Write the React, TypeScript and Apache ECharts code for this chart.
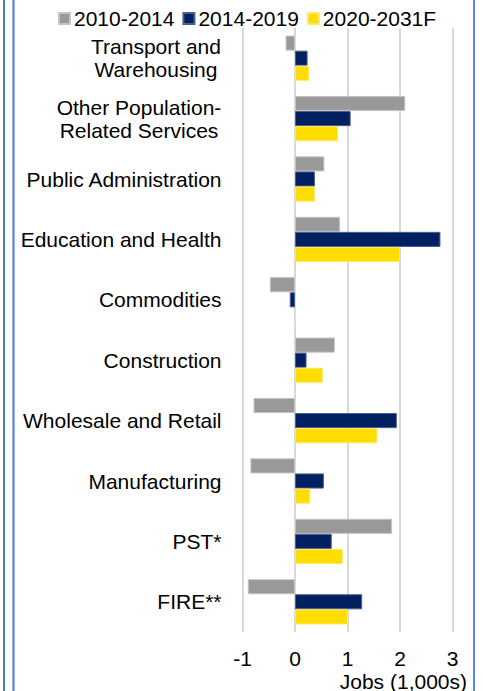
import React, { useEffect, useRef } from "react";
import * as echarts from "echarts";

const categories = [
  "Transport and\nWarehousing",
  "Other Population-\nRelated Services",
  "Public Administration",
  "Education and Health",
  "Commodities",
  "Construction",
  "Wholesale and Retail",
  "Manufacturing",
  "PST*",
  "FIRE**",
];
const seriesNames = ["2010-2014", "2014-2019", "2020-2031F"];
const values2010 = [-0.18, 2.1, 0.56, 0.86, -0.48, 0.76, -0.79, -0.85, 1.85, -0.9];
const values2014 = [0.24, 1.06, 0.38, 2.77, -0.1, 0.22, 1.94, 0.55, 0.7, 1.28];
const values2020 = [0.27, 0.82, 0.38, 2.0, 0.02, 0.53, 1.57, 0.29, 0.91, 1.01];
const xMin = -1;
const xMax = 3;
const xInterval = 1;
const xAxisTitle = "Jobs (1,000s)";

const FONT = "Liberation Sans, Arial, sans-serif";
const FS = 21;

export default function App() {
  const ref = useRef<HTMLDivElement>(null);
  useEffect(() => {
    if (!ref.current) return;
    const chart = echarts.init(ref.current, undefined, { renderer: "svg" });
    const colors = ["#999999", "#002060", "#FFDD00"];
    const borders = ["#c4c4c4", "#4a5f8f", "#ffe866"];
    const allValues = [values2010, values2014, values2020];
    chart.setOption({
      animation: false,
      backgroundColor: "#ffffff",
      textStyle: { fontFamily: FONT },
      legend: {
        top: 8,
        left: 58,
        itemWidth: 11,
        itemHeight: 11,
        itemGap: 8,
        padding: 0,
        icon: "rect",
        textStyle: { fontSize: FS, color: "#000", fontFamily: FONT, padding: [0, 0, 0, -1] },
        data: seriesNames,
      },
      grid: { left: 242.5, right: 30.5, top: 28, bottom: 59 },
      xAxis: {
        type: "value",
        min: xMin,
        max: xMax,
        interval: xInterval,
        axisLine: { show: false },
        axisTick: { show: false },
        splitLine: { show: true, lineStyle: { color: "#d9d9d9", width: 2 } },
        axisLabel: { fontSize: FS, color: "#000", margin: 15.5, fontFamily: FONT },
      },
      yAxis: {
        type: "category",
        inverse: true,
        data: categories,
        axisLine: { show: false },
        axisTick: { show: false },
        axisLabel: {
          fontSize: FS,
          color: "#000",
          margin: 21,
          lineHeight: 23,
          fontFamily: FONT,
          formatter: (v: string) => {
            if (v.indexOf("\n") < 0) return v;
            const lines = v.split("\n");
            const key = v.startsWith("Transport") ? "t" : "o";
            return lines.map((l) => `{${key}|${l}}`).join("\n");
          },
          rich: {
            t: { width: 131, align: "center", fontSize: FS, lineHeight: 23, fontFamily: FONT, color: "#000" },
            o: { width: 165, align: "center", fontSize: FS, lineHeight: 23, fontFamily: FONT, color: "#000" },
          },
        },
      },
      graphic: [
        { type: "rect", shape: { x: 3, y: 0, width: 2, height: 691 }, style: { fill: "#4a78c8" } },
        { type: "rect", shape: { x: 12, y: 0, width: 3, height: 691 }, style: { fill: "#9bb6e2" } },
        { type: "rect", shape: { x: 13, y: 0, width: 1, height: 691 }, style: { fill: "#5b85d0" } },
        { type: "rect", shape: { x: 473, y: 0, width: 2, height: 691 }, style: { fill: "#5b8ad8" } },
        {
          type: "text",
          x: 467,
          y: 681,
          style: {
            text: xAxisTitle,
            fontSize: FS,
            fontFamily: FONT,
            fill: "#000",
            align: "right",
            verticalAlign: "middle",
          },
        },
      ],
      series: seriesNames.map((name, i) => ({
        name,
        type: "bar",
        data: allValues[i],
        barGap: "0%",
        barCategoryGap: "25%",
        itemStyle: { color: colors[i], borderColor: borders[i], borderWidth: 1 },
      })),
    });
    return () => chart.dispose();
  }, []);
  return (
    <div
      ref={ref}
      style={{ position: "absolute", left: 0, top: 0, width: 483, height: 691 }}
    />
  );
}
